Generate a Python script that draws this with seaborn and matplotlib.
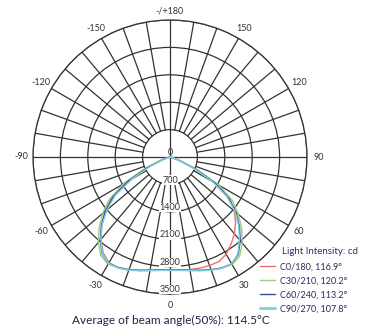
import numpy as np
import pandas as pd
import seaborn as sns
import matplotlib.pyplot as plt

# Angles (deg from nadir) and luminous intensity (cd) for each C-plane half
angles = [0, 5, 10, 15, 20, 25, 30, 35, 40, 45, 50, 55, 60, 65, 70, 75, 80, 85, 90]

c0_right = [2890, 2900, 2920, 2940, 2950, 2950, 2870, 2720, 2560, 2370, 2140, 1870, 1400, 720, 250, 80, 20, 5, 0]
c0_left = [2890, 2900, 2940, 3000, 3070, 3120, 3120, 2980, 2740, 2460, 2160, 1830, 1330, 680, 230, 70, 20, 5, 0]
c30_right = [2880, 2890, 2930, 2990, 3060, 3130, 3170, 3100, 2870, 2590, 2280, 1950, 1450, 780, 280, 90, 25, 5, 0]
c30_left = [2880, 2890, 2930, 2990, 3060, 3120, 3160, 3080, 2850, 2560, 2250, 1900, 1380, 720, 250, 80, 20, 5, 0]
c60_right = [2890, 2900, 2940, 3000, 3070, 3130, 3150, 3040, 2790, 2510, 2200, 1830, 1320, 680, 230, 70, 20, 5, 0]
c60_left = [2890, 2900, 2940, 3000, 3070, 3120, 3140, 3020, 2770, 2480, 2160, 1770, 1230, 600, 200, 60, 15, 5, 0]
c90_right = [2900, 2910, 2950, 3010, 3080, 3140, 3150, 3020, 2760, 2480, 2170, 1780, 1250, 640, 220, 70, 20, 5, 0]
c90_left = [2900, 2910, 2950, 3010, 3080, 3130, 3140, 3010, 2750, 2450, 2100, 1700, 1100, 520, 160, 50, 10, 0, 0]

series_names = ["C0/180, 116.9°", "C30/210, 120.2°", "C60/240, 113.2°", "C90/270, 107.8°"]
series_colors = ["#ee7070", "#98d07c", "#3c4a9c", "#7fd3e3"]
rings = [700, 1400, 2100, 2800, 3500]
angle_ticks = [0, 30, 60, 90, 120, 150, -150, -120, -90, -60, -30]

rows = []
for name, right, left in zip(series_names,
                             [c0_right, c30_right, c60_right, c90_right],
                             [c0_left, c30_left, c60_left, c90_left]):
    for a, v in zip(angles[::-1], left[::-1]):
        rows.append((name, np.radians(-a), v))
    for a, v in zip(angles[1:], right[1:]):
        rows.append((name, np.radians(a), v))
df = pd.DataFrame(rows, columns=["plane", "theta", "cd"])

sns.set_style("white")
plt.rcParams['font.family'] = ['Lato', 'DejaVu Sans']

fig = plt.figure(figsize=(3.76, 3.28), dpi=100)
ax = fig.add_axes([33 / 376, 34 / 328, 274 / 376, 274 / 328], projection='polar')
ax.set_theta_zero_location('S')
ax.set_theta_direction(1)
ax.set_ylim(0, 3500)
ax.set_xticks([])
ax.set_yticks(rings)
ax.set_yticklabels([])
ax.yaxis.grid(True, color='#333333', lw=0.9)
ax.spines['polar'].set_color('#333333')
ax.spines['polar'].set_linewidth(0.9)

# spokes every 10 degrees, main axes through the centre
for d in range(0, 360, 10):
    r0 = 0 if d % 90 == 0 else 700
    ax.plot([np.radians(d)] * 2, [r0, 3500], color='#333333', lw=0.9, zorder=1)

sns.lineplot(data=df, x='theta', y='cd', hue='plane', hue_order=series_names,
             palette=series_colors, estimator=None, sort=False, lw=1.0, ax=ax, zorder=4)
ax.lines[-1].set_linewidth(2.2)
ax.set_xlabel('')
ax.set_ylabel('')

for a in angle_ticks:
    ax.text(np.radians(a), 3800, str(a), ha='center', va='center', fontsize=6.5, color='#333333')
ax.text(np.pi, 3730, '-/+180', ha='center', va='center', fontsize=6.5, color='#333333')
ax.text(0, 0, '0', ha='center', va='bottom', fontsize=6.5, color='#333333')
for r in rings:
    ax.text(0, r - 110, str(r), ha='center', va='center', fontsize=6.5, color='#333333', zorder=3,
            bbox=dict(facecolor='white', edgecolor='none', pad=0.2))

handles, labels = ax.get_legend_handles_labels()
ax.get_legend().remove()
leg = fig.legend(handles, labels, loc='upper left',
                 bbox_to_anchor=(256 / 376, 1 - 259 / 328), frameon=False, fontsize=6.5,
                 handlelength=1.7, labelspacing=0.55, handletextpad=0.6, borderaxespad=0)
for t in leg.get_texts():
    t.set_color('#2b2b5e')
fig.text(282 / 376, 1 - 252 / 328, 'Light Intensity: cd', ha='left', va='center',
         fontsize=7, color='#3b2a6a')

fig.text(171 / 376, 1 - 320 / 328, 'Average of beam angle(50%): 114.5°C', ha='center',
         va='center', fontsize=8.5, color='#222244')

fig.savefig('out.png', dpi=100)
